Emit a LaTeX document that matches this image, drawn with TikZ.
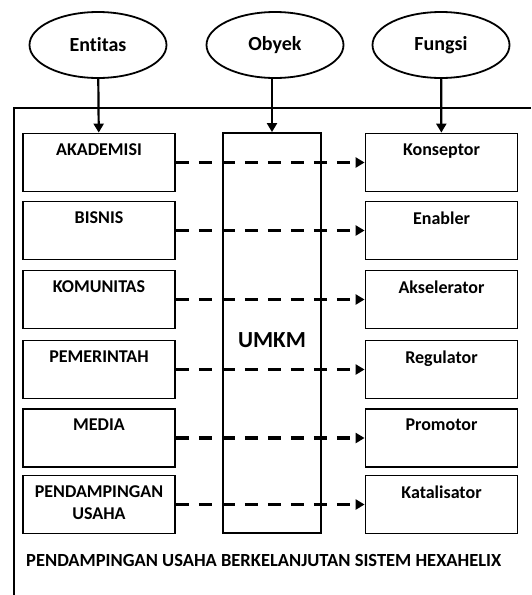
\documentclass[tikz,border=0pt]{standalone}
\usepackage{fontspec}
\setmainfont[Ligatures=NoCommon]{Carlito}
\usetikzlibrary{shapes.geometric,arrows.meta}

\tikzset{
  oval/.style={ellipse, draw, line width=1.8pt, minimum width=137pt, minimum height=66pt,
    inner sep=0pt, font=\fontsize{20}{22}\selectfont\bfseries},
  box/.style={draw, line width=1.8pt, minimum width=152pt, minimum height=58pt},
  boxtext/.style={font=\fontsize{18}{22}\selectfont\bfseries, align=center, inner sep=0pt,
    anchor=north, yshift=-11pt},
  down/.style={line width=2.2pt, -{Triangle[length=9pt,width=10pt]}},
  link/.style={line width=3.5pt, dash pattern=on 13pt off 10pt,
    -{Triangle[length=9pt,width=10pt]}},
}

\begin{document}
\begin{tikzpicture}[x=1pt, y=-1pt]
    \useasboundingbox (0,0) rectangle (531,595);

    % heading ovals
    \node [oval] (entitas) at (98, 45) {Entitas};
    \node [oval] (obyek) at (275, 45) {Obyek};
    \node [oval] (fungsi) at (441, 45) {Fungsi};

    % open frame
    \draw [line width=2pt] (531, 108) -- (14, 108) -- (14, 595);

    % entities
    \node [box, label={[boxtext]north:AKADEMISI}] (akademisi) at (99, 162.5) {};
    \node [box, label={[boxtext]north:BISNIS}] (bisnis) at (99, 230.5) {};
    \node [box, label={[boxtext]north:KOMUNITAS}] (komunitas) at (99, 299.5) {};
    \node [box, label={[boxtext]north:PEMERINTAH}] (pemerintah) at (99, 369.5) {};
    \node [box, label={[boxtext]north:MEDIA}] (media) at (99, 438) {};
    \node [box, label={[boxtext]north:{PENDAMPINGAN\\USAHA}}] (pendampingan) at (99, 504.5) {};

    % object
    \node [draw, line width=1.8pt, minimum width=98pt, minimum height=400pt] (umkm) at (272, 333) {};
    \node [font=\fontsize{23}{25}\selectfont\bfseries] (umkmtext) at (272, 340) {UMKM};

    % functions
    \node [box, label={[boxtext]north:Konseptor}] (konseptor) at (441.5, 162.5) {};
    \node [box, label={[boxtext]north:Enabler}] (enabler) at (441.5, 230.5) {};
    \node [box, label={[boxtext]north:Akselerator}] (akselerator) at (441.5, 299.5) {};
    \node [box, label={[boxtext]north:Regulator}] (regulator) at (441.5, 369.5) {};
    \node [box, label={[boxtext]north:Promotor}] (promotor) at (441.5, 438) {};
    \node [box, label={[boxtext]north:Katalisator}] (katalisator) at (441.5, 504.5) {};

    \draw [down] (entitas) -- (akademisi);
    \draw [down] (obyek.south -| umkm.north) -- (umkm.north);
    \draw [down] (fungsi) -- (konseptor);

    \draw [link] (akademisi) -- (konseptor);
    \draw [link] (bisnis) -- (enabler);
    \draw [link] (komunitas) -- (akselerator);
    \draw [link] (pemerintah) -- (regulator);
    \draw [link] (media) -- (promotor);
    \draw [link] (pendampingan) -- (katalisator);

    \node [anchor=west, inner sep=0pt, font=\fontsize{18.5}{22}\selectfont\bfseries] (judul) at (26, 560)
      {PENDAMPINGAN USAHA BERKELANJUTAN SISTEM HEXAHELIX};
\end{tikzpicture}
\end{document}
